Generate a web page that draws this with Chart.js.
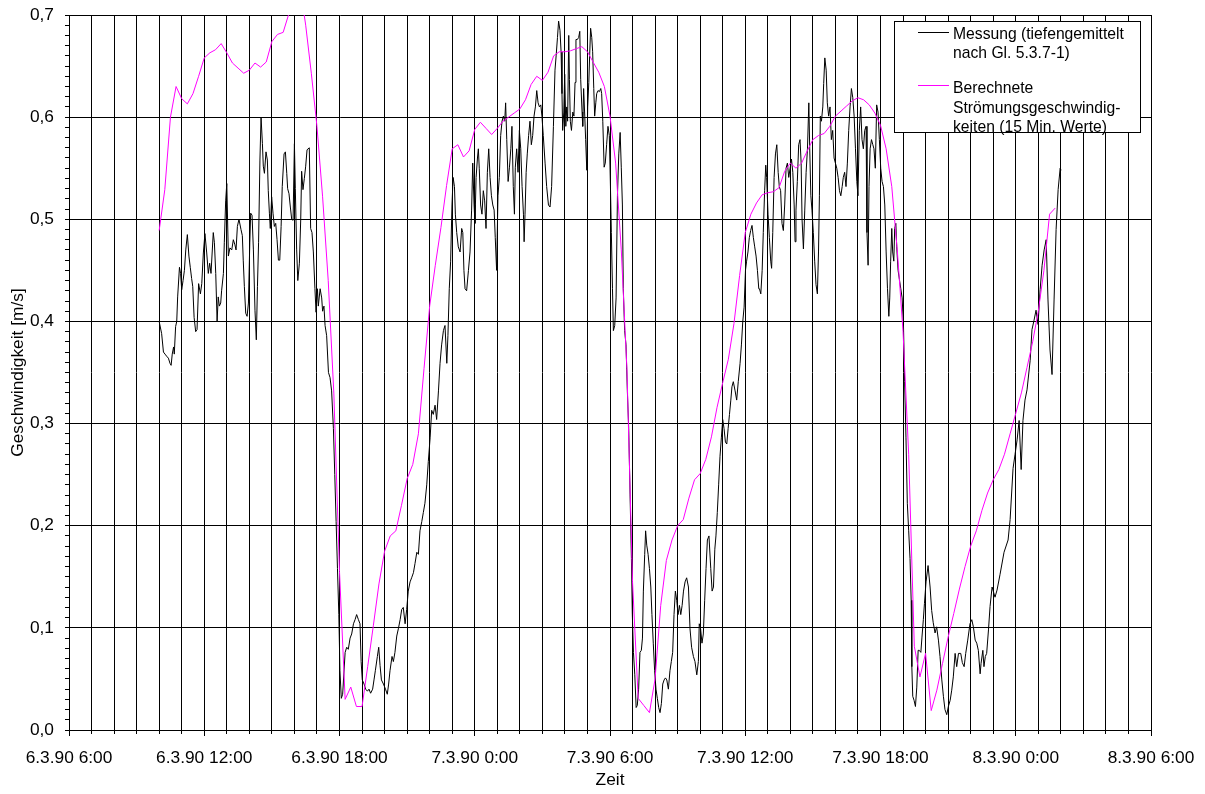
<!DOCTYPE html>
<html>
<head>
<meta charset="utf-8">
<title>Geschwindigkeit</title>
<script src="https://cdn.jsdelivr.net/npm/chart.js@4.4.1/dist/chart.umd.min.js"></script>
<style>
  html, body { margin: 0; padding: 0; background: #fff; }
  #wrap { position: relative; width: 1205px; height: 794px; overflow: hidden; }
  #chart { position: absolute; left: 0; top: 0; }
  .legend {
    position: absolute; left: 894px; top: 21px; width: 245px; height: 110px;
    border: 1px solid #000; background: #fff; color: #000;
    font-family: "Liberation Sans", Arial, sans-serif; font-size: 15.7px; line-height: 19.6px;
  }
  .legend .swatch { position: absolute; left: 23px; width: 31px; height: 1px; }
  .legend .txt { position: absolute; left: 58px; white-space: nowrap; }
</style>
</head>
<body>
<div id="wrap">
  <canvas id="chart" width="1205" height="794"></canvas>
  <div class="legend">
    <div class="swatch" style="top:10px;background:#000;"></div>
    <div class="txt" style="top:1.5px;">Messung (tiefengemittelt<br>nach Gl. 5.3.7-1)</div>
    <div class="swatch" style="top:63px;background:#ff00ff;"></div>
    <div class="txt" style="top:56px;">Berechnete<br>Strömungsgeschwindig-<br>keiten (15 Min. Werte)</div>
  </div>
</div>
<script>
// Time axis is in hours counted from 6.3.90 0:00.
const X_MIN = 6;   // 6.3.90 6:00
const X_MAX = 54;  // 8.3.90 6:00
const MAJOR_STEP = 6;
const Y_MIN = 0;
const Y_MAX = 0.7;

// Calculated current speed, 15-minute values starting 6.3.90 10:00
const calcStart = 10;
const calcStep = 0.25;
const calcValues = [
  0.489, 0.529, 0.600, 0.630, 0.618, 0.613, 0.623, 0.640, 0.658, 0.663,
  0.666, 0.672, 0.663, 0.653, 0.648, 0.643, 0.646, 0.653, 0.649, 0.654,
  0.674, 0.681, 0.683, 0.701, 0.735, 0.728, 0.690, 0.643, 0.591, 0.522,
  0.440, 0.329, 0.155, 0.030, 0.042, 0.023, 0.023, 0.062, 0.102, 0.143,
  0.175, 0.190, 0.195, 0.220, 0.246, 0.260, 0.290, 0.354, 0.415, 0.455,
  0.492, 0.533, 0.569, 0.573, 0.561, 0.567, 0.588, 0.595, 0.589, 0.583,
  0.589, 0.596, 0.600, 0.604, 0.608, 0.617, 0.632, 0.640, 0.636, 0.644,
  0.660, 0.664, 0.664, 0.665, 0.667, 0.669, 0.664, 0.654, 0.644, 0.630,
  0.601, 0.555, 0.470, 0.354, 0.145, 0.031, 0.024, 0.017, 0.050, 0.122,
  0.166, 0.186, 0.200, 0.206, 0.227, 0.245, 0.251, 0.265, 0.287, 0.316,
  0.340, 0.363, 0.398, 0.445, 0.487, 0.505, 0.516, 0.524, 0.526, 0.527,
  0.531, 0.547, 0.555, 0.550, 0.555, 0.567, 0.578, 0.582, 0.584, 0.591,
  0.601, 0.606, 0.611, 0.616, 0.619, 0.617, 0.612, 0.604, 0.592, 0.569,
  0.532, 0.468, 0.390, 0.270, 0.082, 0.052, 0.075, 0.019, 0.039, 0.065,
  0.091, 0.114, 0.138, 0.160, 0.180, 0.195, 0.215, 0.232, 0.245, 0.255,
  0.270, 0.290, 0.310, 0.330, 0.355, 0.380, 0.410, 0.450, 0.505, 0.511
];

// Measured depth-averaged speed: [time in hours, m/s]
const measured = [
  [10.00,0.400],[10.11,0.388],[10.19,0.370],[10.26,0.368],[10.33,0.366],[10.41,0.364],[10.48,0.359],[10.53,0.357],[10.58,0.368],[10.64,0.375],
  [10.67,0.368],[10.73,0.395],[10.78,0.400],[10.82,0.424],[10.90,0.453],[10.95,0.447],[11.00,0.431],[11.06,0.440],[11.12,0.450],[11.18,0.470],
  [11.25,0.485],[11.32,0.464],[11.38,0.453],[11.44,0.442],[11.49,0.434],[11.55,0.404],[11.62,0.390],[11.68,0.392],[11.75,0.437],[11.83,0.427],
  [11.89,0.437],[11.96,0.467],[12.03,0.486],[12.11,0.467],[12.18,0.447],[12.24,0.457],[12.30,0.447],[12.40,0.487],[12.45,0.477],[12.51,0.447],
  [12.57,0.400],[12.62,0.424],[12.67,0.415],[12.73,0.418],[12.77,0.430],[12.85,0.447],[12.89,0.477],[12.95,0.518],[13.00,0.535],[13.07,0.464],
  [13.14,0.472],[13.22,0.470],[13.29,0.480],[13.36,0.475],[13.41,0.470],[13.47,0.493],[13.54,0.500],[13.63,0.490],[13.69,0.484],[13.73,0.460],
  [13.78,0.434],[13.84,0.408],[13.90,0.405],[13.96,0.418],[14.02,0.477],[14.06,0.506],[14.12,0.504],[14.18,0.470],[14.25,0.411],[14.31,0.382],
  [14.36,0.434],[14.41,0.477],[14.47,0.558],[14.52,0.600],[14.58,0.574],[14.62,0.552],[14.67,0.545],[14.74,0.566],[14.80,0.558],[14.84,0.528],
  [14.89,0.506],[14.93,0.491],[14.99,0.522],[15.05,0.506],[15.11,0.493],[15.17,0.496],[15.23,0.480],[15.29,0.460],[15.35,0.460],[15.41,0.493],
  [15.46,0.532],[15.54,0.564],[15.60,0.566],[15.66,0.545],[15.70,0.530],[15.76,0.525],[15.82,0.512],[15.88,0.500],[15.94,0.499],[16.00,0.574],
  [16.04,0.530],[16.10,0.470],[16.15,0.440],[16.22,0.457],[16.28,0.500],[16.32,0.547],[16.38,0.529],[16.44,0.540],[16.50,0.552],[16.56,0.568],
  [16.66,0.570],[16.72,0.491],[16.78,0.487],[16.84,0.468],[16.91,0.432],[16.96,0.409],[17.02,0.432],[17.06,0.415],[17.14,0.432],[17.21,0.423],
  [17.25,0.410],[17.31,0.415],[17.36,0.396],[17.43,0.386],[17.51,0.350],[17.58,0.345],[17.65,0.332],[17.73,0.295],[17.79,0.250],[17.85,0.204],
  [17.91,0.158],[17.97,0.113],[18.02,0.058],[18.08,0.031],[18.14,0.035],[18.25,0.076],[18.32,0.081],[18.39,0.079],[18.47,0.090],[18.54,0.094],
  [18.62,0.104],[18.69,0.108],[18.76,0.113],[18.84,0.108],[18.91,0.104],[18.96,0.067],[19.01,0.049],[19.09,0.045],[19.16,0.040],[19.24,0.038],
  [19.31,0.040],[19.38,0.036],[19.47,0.040],[19.53,0.049],[19.59,0.058],[19.68,0.072],[19.74,0.081],[19.80,0.063],[19.86,0.049],[19.95,0.045],
  [20.04,0.040],[20.12,0.035],[20.18,0.045],[20.24,0.058],[20.33,0.072],[20.39,0.067],[20.46,0.076],[20.54,0.092],[20.61,0.099],[20.69,0.108],
  [20.76,0.118],[20.83,0.120],[20.91,0.104],[20.98,0.118],[21.05,0.136],[21.13,0.145],[21.20,0.149],[21.28,0.154],[21.35,0.163],[21.43,0.174],
  [21.50,0.172],[21.57,0.195],[21.65,0.204],[21.72,0.213],[21.79,0.222],[21.87,0.240],[21.94,0.263],[22.02,0.286],[22.09,0.313],[22.16,0.309],
  [22.24,0.318],[22.31,0.304],[22.39,0.332],[22.46,0.359],[22.53,0.377],[22.61,0.391],[22.68,0.396],[22.76,0.359],[22.81,0.386],[22.87,0.432],
  [22.93,0.459],[22.99,0.514],[23.04,0.541],[23.10,0.532],[23.14,0.505],[23.20,0.487],[23.27,0.473],[23.35,0.468],[23.42,0.491],[23.47,0.487],
  [23.52,0.450],[23.57,0.432],[23.64,0.430],[23.72,0.450],[23.79,0.468],[23.86,0.509],[23.91,0.555],[23.97,0.514],[24.01,0.496],[24.06,0.541],
  [24.12,0.560],[24.16,0.569],[24.20,0.550],[24.26,0.514],[24.32,0.505],[24.38,0.528],[24.44,0.518],[24.50,0.491],[24.56,0.546],[24.62,0.569],
  [24.68,0.541],[24.74,0.523],[24.80,0.514],[24.86,0.509],[24.91,0.482],[24.97,0.450],[25.03,0.523],[25.09,0.541],[25.15,0.582],[25.21,0.596],
  [25.27,0.601],[25.33,0.596],[25.37,0.614],[25.42,0.578],[25.48,0.537],[25.54,0.551],[25.60,0.569],[25.65,0.591],[25.71,0.532],[25.76,0.505],
  [25.80,0.551],[25.86,0.569],[25.92,0.546],[25.98,0.587],[26.04,0.569],[26.10,0.532],[26.16,0.505],[26.19,0.478],[26.23,0.505],[26.28,0.546],
  [26.33,0.564],[26.39,0.582],[26.45,0.596],[26.51,0.573],[26.57,0.582],[26.63,0.601],[26.69,0.610],[26.75,0.626],[26.81,0.614],[26.87,0.610],
  [26.93,0.612],[26.98,0.601],[27.04,0.582],[27.12,0.555],[27.19,0.532],[27.27,0.514],[27.34,0.512],[27.41,0.532],[27.49,0.591],[27.56,0.646],
  [27.61,0.660],[27.67,0.678],[27.72,0.694],[27.78,0.685],[27.83,0.664],[27.87,0.623],[27.90,0.587],[27.95,0.605],[27.99,0.642],[28.04,0.591],
  [28.08,0.610],[28.12,0.596],[28.17,0.680],[28.20,0.637],[28.24,0.596],[28.29,0.587],[28.35,0.605],[28.40,0.601],[28.45,0.634],[28.49,0.676],
  [28.55,0.676],[28.61,0.678],[28.66,0.684],[28.70,0.637],[28.76,0.605],[28.79,0.591],[28.83,0.628],[28.88,0.601],[28.92,0.578],[28.97,0.548],
  [29.01,0.610],[29.06,0.634],[29.10,0.662],[29.14,0.687],[29.19,0.678],[29.23,0.664],[29.28,0.628],[29.32,0.601],[29.37,0.614],[29.41,0.623],
  [29.47,0.626],[29.53,0.625],[29.59,0.628],[29.63,0.623],[29.68,0.596],[29.74,0.551],[29.79,0.555],[29.85,0.573],[29.91,0.591],[29.97,0.582],
  [30.02,0.532],[30.06,0.487],[30.11,0.432],[30.15,0.391],[30.21,0.396],[30.27,0.423],[30.33,0.523],[30.39,0.564],[30.45,0.585],[30.50,0.551],
  [30.55,0.514],[30.59,0.432],[30.65,0.391],[30.71,0.377],[30.77,0.332],[30.83,0.295],[30.89,0.231],[30.95,0.168],[30.99,0.113],[31.04,0.076],
  [31.10,0.054],[31.16,0.022],[31.21,0.024],[31.27,0.040],[31.33,0.076],[31.39,0.078],[31.44,0.090],[31.48,0.136],[31.54,0.172],[31.58,0.195],
  [31.63,0.181],[31.69,0.172],[31.75,0.158],[31.81,0.140],[31.86,0.113],[31.92,0.085],[31.98,0.058],[32.04,0.040],[32.10,0.031],[32.16,0.022],
  [32.22,0.017],[32.28,0.026],[32.34,0.045],[32.40,0.049],[32.46,0.051],[32.52,0.049],[32.59,0.040],[32.66,0.058],[32.72,0.067],[32.78,0.076],
  [32.84,0.113],[32.90,0.136],[32.96,0.127],[33.02,0.113],[33.08,0.122],[33.14,0.113],[33.20,0.122],[33.26,0.136],[33.33,0.145],[33.40,0.149],
  [33.48,0.140],[33.55,0.099],[33.62,0.081],[33.70,0.072],[33.77,0.067],[33.85,0.054],[33.92,0.067],[33.96,0.104],[34.02,0.099],[34.08,0.085],
  [34.14,0.094],[34.20,0.127],[34.26,0.158],[34.32,0.186],[34.39,0.190],[34.47,0.158],[34.53,0.136],[34.59,0.140],[34.65,0.177],[34.70,0.190],
  [34.76,0.213],[34.82,0.240],[34.88,0.268],[34.94,0.286],[35.00,0.304],[35.06,0.295],[35.12,0.282],[35.18,0.280],[35.24,0.295],[35.30,0.309],
  [35.36,0.323],[35.41,0.336],[35.47,0.341],[35.55,0.332],[35.62,0.323],[35.69,0.341],[35.77,0.359],[35.83,0.377],[35.89,0.400],[35.95,0.414],
  [36.01,0.450],[36.06,0.459],[36.12,0.468],[36.18,0.482],[36.24,0.489],[36.30,0.494],[36.36,0.482],[36.42,0.473],[36.48,0.464],[36.54,0.450],
  [36.60,0.432],[36.63,0.432],[36.69,0.427],[36.75,0.450],[36.80,0.487],[36.86,0.528],[36.91,0.553],[36.95,0.541],[37.01,0.505],[37.07,0.482],
  [37.13,0.459],[37.17,0.452],[37.22,0.487],[37.28,0.541],[37.34,0.564],[37.40,0.573],[37.46,0.546],[37.51,0.532],[37.57,0.528],[37.63,0.496],
  [37.69,0.489],[37.75,0.514],[37.81,0.550],[37.87,0.555],[37.93,0.541],[37.99,0.550],[38.05,0.559],[38.11,0.546],[38.17,0.514],[38.21,0.478],
  [38.25,0.509],[38.31,0.537],[38.37,0.573],[38.43,0.578],[38.48,0.555],[38.52,0.500],[38.58,0.471],[38.64,0.509],[38.70,0.546],[38.76,0.569],
  [38.82,0.614],[38.86,0.569],[38.91,0.523],[38.96,0.509],[39.02,0.487],[39.08,0.459],[39.14,0.436],[39.20,0.427],[39.25,0.468],[39.29,0.523],
  [39.33,0.601],[39.38,0.596],[39.44,0.610],[39.48,0.633],[39.53,0.658],[39.59,0.646],[39.64,0.614],[39.70,0.601],[39.76,0.610],[39.82,0.578],
  [39.88,0.587],[39.94,0.560],[40.00,0.555],[40.06,0.550],[40.12,0.541],[40.18,0.528],[40.24,0.523],[40.30,0.532],[40.35,0.541],[40.41,0.546],
  [40.47,0.532],[40.53,0.555],[40.59,0.587],[40.65,0.610],[40.71,0.628],[40.77,0.619],[40.83,0.601],[40.89,0.569],[40.95,0.537],[41.00,0.523],
  [41.06,0.587],[41.12,0.610],[41.18,0.578],[41.24,0.569],[41.30,0.587],[41.36,0.591],[41.40,0.487],[41.45,0.455],[41.49,0.532],[41.54,0.569],
  [41.60,0.578],[41.66,0.573],[41.71,0.569],[41.77,0.550],[41.83,0.612],[41.89,0.605],[41.95,0.578],[42.01,0.550],[42.07,0.537],[42.13,0.532],
  [42.19,0.514],[42.25,0.468],[42.31,0.432],[42.37,0.405],[42.41,0.423],[42.45,0.459],[42.50,0.491],[42.54,0.468],[42.59,0.459],[42.63,0.491],
  [42.68,0.496],[42.72,0.473],[42.78,0.450],[42.84,0.441],[42.90,0.432],[42.96,0.423],[43.02,0.396],[43.07,0.341],[43.13,0.286],[43.19,0.222],
  [43.25,0.195],[43.31,0.168],[43.36,0.127],[43.39,0.062],[43.43,0.033],[43.49,0.029],[43.55,0.023],[43.61,0.042],[43.67,0.078],[43.72,0.078],
  [43.79,0.076],[43.84,0.091],[43.90,0.108],[43.95,0.124],[44.02,0.145],[44.11,0.161],[44.20,0.140],[44.27,0.117],[44.34,0.105],[44.42,0.095],
  [44.49,0.101],[44.57,0.088],[44.64,0.072],[44.72,0.049],[44.79,0.033],[44.86,0.020],[44.94,0.015],[45.01,0.023],[45.09,0.029],[45.16,0.039],
  [45.23,0.052],[45.31,0.075],[45.38,0.062],[45.46,0.075],[45.56,0.075],[45.63,0.066],[45.71,0.062],[45.78,0.075],[45.87,0.088],[45.97,0.104],
  [46.05,0.108],[46.12,0.101],[46.20,0.088],[46.27,0.085],[46.34,0.078],[46.42,0.055],[46.46,0.065],[46.54,0.078],[46.59,0.062],[46.65,0.072],
  [46.71,0.075],[46.79,0.098],[46.86,0.121],[46.95,0.140],[47.08,0.130],[47.17,0.137],[47.30,0.152],[47.48,0.174],[47.66,0.186],[47.75,0.206],
  [47.88,0.256],[47.97,0.270],[48.06,0.284],[48.15,0.303],[48.24,0.255],[48.32,0.303],[48.41,0.323],[48.50,0.333],[48.64,0.362],[48.72,0.392],
  [48.81,0.401],[48.90,0.411],[48.99,0.397],[49.08,0.431],[49.17,0.455],[49.26,0.470],[49.35,0.480],[49.43,0.421],[49.52,0.372],[49.61,0.348],
  [49.70,0.421],[49.79,0.490],[49.88,0.529],[49.97,0.550],[50.01,0.548]
];

const FONT = '"Liberation Sans", Arial, sans-serif';
const AXIS_FONT_SIZE = 17.33;

function timeLabel(t) {
  const day = 6 + Math.floor(t / 24);
  const hour = ((t % 24) + 24) % 24;
  return day + '.3.90 ' + hour + ':00';
}
function isTenth(v) {
  return Math.abs(v * 10 - Math.round(v * 10)) < 1e-6;
}
function crisp(p) {
  return Math.round(p - 0.5) + 0.5;
}

const calcPoints = calcValues.map((v, i) => ({ x: calcStart + i * calcStep, y: v }));
const measPoints = measured.map(p => ({ x: p[0], y: p[1] }));

// Axis tick marks: hourly marks below the time axis (longer every 6 h),
// marks every 0.01 m/s to the left of the speed axis.
const axisTickMarks = {
  id: 'axisTickMarks',
  afterDraw(chart) {
    const xs = chart.scales.x;
    const ys = chart.scales.y;
    const ctx = chart.ctx;
    ctx.save();
    ctx.strokeStyle = '#000';
    ctx.lineWidth = 1;
    ctx.beginPath();
    const y0 = xs.top;
    for (let t = X_MIN; t <= X_MAX; t += 1) {
      const px = crisp(xs.getPixelForValue(t));
      const len = t % MAJOR_STEP === 0 ? 6 : 4;
      ctx.moveTo(px, y0);
      ctx.lineTo(px, y0 + len);
    }
    const x0 = ys.right;
    for (let i = 0; i <= 70; i++) {
      const py = crisp(ys.getPixelForValue(i / 100));
      ctx.moveTo(x0, py);
      ctx.lineTo(x0 - 4, py);
    }
    ctx.stroke();
    ctx.restore();
  }
};

Chart.defaults.font.family = FONT;
Chart.defaults.color = '#000';

new Chart(document.getElementById('chart'), {
  type: 'line',
  data: {
    datasets: [
      {
        label: 'Messung (tiefengemittelt nach Gl. 5.3.7-1)',
        data: measPoints,
        borderColor: '#000000',
        borderWidth: 1,
        order: 2
      },
      {
        label: 'Berechnete Strömungsgeschwindigkeiten (15 Min. Werte)',
        data: calcPoints,
        borderColor: '#ff00ff',
        borderWidth: 1,
        order: 1
      }
    ]
  },
  options: {
    responsive: false,
    animation: false,
    devicePixelRatio: 1,
    layout: { padding: { top: 15, right: 54, bottom: 0, left: 0 } },
    elements: { point: { radius: 0 }, line: { tension: 0 } },
    plugins: { legend: { display: false }, tooltip: { enabled: false } },
    scales: {
      x: {
        type: 'linear',
        min: X_MIN,
        max: X_MAX,
        afterFit(scale) { scale.height = 64; },
        grid: { color: '#000', lineWidth: 1, tickLength: 8, tickWidth: 0 },
        border: { color: '#000', width: 1 },
        ticks: {
          stepSize: 1,
          autoSkip: false,
          maxRotation: 0,
          minRotation: 0,
          padding: 10,
          font: { size: AXIS_FONT_SIZE },
          callback: v => (v % MAJOR_STEP === 0 ? timeLabel(v) : '')
        },
        title: { display: true, text: 'Zeit', font: { size: AXIS_FONT_SIZE }, padding: { top: 0, bottom: 3 } }
      },
      y: {
        min: Y_MIN,
        max: Y_MAX,
        afterFit(scale) { scale.width = 69; },
        grid: {
          color: '#000',
          lineWidth: c => (isTenth(c.tick.value) ? 1 : 0),
          tickLength: 15,
          tickWidth: 0
        },
        border: { color: '#000', width: 1 },
        ticks: {
          stepSize: 0.01,
          autoSkip: false,
          padding: 0,
          font: { size: AXIS_FONT_SIZE },
          callback: v => (isTenth(v) ? v.toFixed(1).replace('.', ',') : '')
        },
        title: { display: true, text: 'Geschwindigkeit [m/s]', font: { size: AXIS_FONT_SIZE }, padding: { top: 8, bottom: 0 } }
      }
    }
  },
  plugins: [axisTickMarks]
});
</script>
</body>
</html>
